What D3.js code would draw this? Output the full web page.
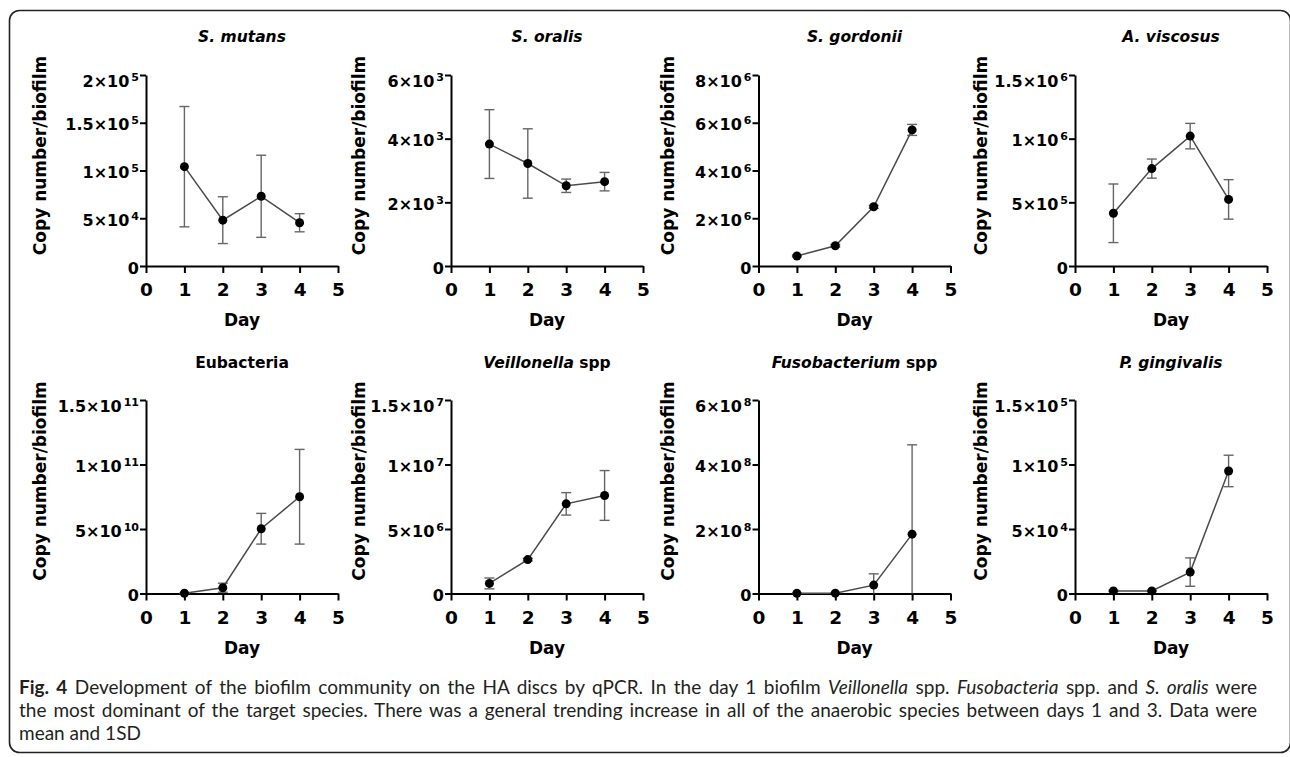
<!DOCTYPE html>
<html>
<head>
<meta charset="utf-8">
<script src="https://cdn.jsdelivr.net/npm/d3@7"></script>
<style>
  html, body { margin: 0; padding: 0; background: #fff; }
  svg { display: block; }
  .axis path, .axis line { stroke: #000; stroke-width: 2; }
  .axis text { font-family: "DejaVu Sans", sans-serif; font-weight: bold; fill: #000; }
</style>
</head>
<body>
<svg id="fig" width="1290" height="757"></svg>
<script>
// Days sampled and the shared x axis
const days = [1, 2, 3, 4];
const xTicks = [0, 1, 2, 3, 4, 5];

// S. mutans
const mutansMean = [1.04e5, 0.48e5, 0.73e5, 0.453e5];
const mutansSD = [0.63e5, 0.245e5, 0.43e5, 0.095e5];
const mutansTicks = [0, 5e4, 1e5, 1.5e5, 2e5];
const mutansTickLabels = ["0", "5×10^4", "1×10^5", "1.5×10^5", "2×10^5"];

// S. oralis
const oralisMean = [3.83e3, 3.22e3, 2.52e3, 2.65e3];
const oralisSD = [1.08e3, 1.09e3, 0.21e3, 0.29e3];
const oralisTicks = [0, 2e3, 4e3, 6e3];
const oralisTickLabels = ["0", "2×10^3", "4×10^3", "6×10^3"];

// S. gordonii
const gordoniiMean = [0.42e6, 0.85e6, 2.48e6, 5.70e6];
const gordoniiSD = [0.04e6, 0.05e6, 0.06e6, 0.23e6];
const gordoniiTicks = [0, 2e6, 4e6, 6e6, 8e6];
const gordoniiTickLabels = ["0", "2×10^6", "4×10^6", "6×10^6", "8×10^6"];

// A. viscosus
const viscosusMean = [0.414e6, 0.765e6, 1.02e6, 0.523e6];
const viscosusSD = [0.23e6, 0.075e6, 0.10e6, 0.155e6];
const viscosusTicks = [0, 5e5, 1e6, 1.5e6];
const viscosusTickLabels = ["0", "5×10^5", "1×10^6", "1.5×10^6"];

// Eubacteria
const eubacteriaMean = [0.02e10, 0.45e10, 5.02e10, 7.5e10];
const eubacteriaSD = [0.01e10, 0.35e10, 1.19e10, 3.67e10];
const eubacteriaTicks = [0, 5e10, 1e11, 1.5e11];
const eubacteriaTickLabels = ["0", "5×10^10", "1×10^11", "1.5×10^11"];

// Veillonella spp
const veillonellaMean = [0.78e6, 2.63e6, 6.95e6, 7.6e6];
const veillonellaSD = [0.42e6, 0.1e6, 0.87e6, 1.93e6];
const veillonellaTicks = [0, 5e6, 1e7, 1.5e7];
const veillonellaTickLabels = ["0", "5×10^6", "1×10^7", "1.5×10^7"];

// Fusobacterium spp
const fusoMean = [0.005e8, 0.01e8, 0.26e8, 1.84e8];
const fusoSD = [0.003e8, 0.005e8, 0.35e8, 2.77e8];
const fusoTicks = [0, 2e8, 4e8, 6e8];
const fusoTickLabels = ["0", "2×10^8", "4×10^8", "6×10^8"];

// P. gingivalis
const gingivalisMean = [0.2e4, 0.2e4, 1.66e4, 9.5e4];
const gingivalisSD = [0.05e4, 0.05e4, 1.1e4, 1.22e4];
const gingivalisTicks = [0, 5e4, 1e5, 1.5e5];
const gingivalisTickLabels = ["0", "5×10^4", "1×10^5", "1.5×10^5"];

// Panel titles: [text, italic]
const titles = [
  [["S. mutans", true]],
  [["S. oralis", true]],
  [["S. gordonii", true]],
  [["A. viscosus", true]],
  [["Eubacteria", false]],
  [["Veillonella", true], [" spp", false]],
  [["Fusobacterium", true], [" spp", false]],
  [["P. gingivalis", true]]
];

const yTitle = "Copy number/biofilm";
const xTitle = "Day";

const captionLines = [
  [["Fig. 4", "bold"], [" Development of the biofilm community on the HA discs by qPCR. In the day 1 biofilm ", ""],
   ["Veillonella", "italic"], [" spp. ", ""], ["Fusobacteria", "italic"], [" spp. and ", ""], ["S. oralis", "italic"], [" were", ""]],
  [["the most dominant of the target species. There was a general trending increase in all of the anaerobic species between days 1 and 3. Data were", ""]],
  [["mean and 1SD", ""]]
];

const panels = [
  {mean: mutansMean, sd: mutansSD, ticks: mutansTicks, labels: mutansTickLabels},
  {mean: oralisMean, sd: oralisSD, ticks: oralisTicks, labels: oralisTickLabels},
  {mean: gordoniiMean, sd: gordoniiSD, ticks: gordoniiTicks, labels: gordoniiTickLabels},
  {mean: viscosusMean, sd: viscosusSD, ticks: viscosusTicks, labels: viscosusTickLabels},
  {mean: eubacteriaMean, sd: eubacteriaSD, ticks: eubacteriaTicks, labels: eubacteriaTickLabels},
  {mean: veillonellaMean, sd: veillonellaSD, ticks: veillonellaTicks, labels: veillonellaTickLabels},
  {mean: fusoMean, sd: fusoSD, ticks: fusoTicks, labels: fusoTickLabels},
  {mean: gingivalisMean, sd: gingivalisSD, ticks: gingivalisTicks, labels: gingivalisTickLabels}
].map((p, i) => Object.assign(p, {title: titles[i], col: i % 4, row: Math.floor(i / 4)}));

// Layout of the 4 x 2 grid
const colAxisX = [146, 451, 758.5, 1075];
const colLabelX = [46, 365, 673.5, 986.5];
const rows = [
  {y0: 266, yTop: 75, titleY: 42, labelY: 155.5},
  {y0: 593.5, yTop: 400, titleY: 368, labelY: 481}
];
const plotW = 192;

const svg = d3.select("#fig");

// Rounded frame around the figure
svg.append("rect")
  .attr("x", 9.5).attr("y", 10.5)
  .attr("width", 1281).attr("height", 742)
  .attr("rx", 10).attr("ry", 10)
  .attr("fill", "none").attr("stroke", "#222").attr("stroke-width", 1.6);

panels.forEach(p => {
  const r = rows[p.row];
  const ax = colAxisX[p.col];
  const x = d3.scaleLinear().domain([0, 5]).range([ax, ax + plotW]);
  const yMax = p.ticks[p.ticks.length - 1];
  const y = d3.scaleLinear().domain([0, yMax]).range([r.y0, r.yTop]);
  const g = svg.append("g");

  // x axis
  const gx = g.append("g").attr("class", "axis")
    .attr("transform", `translate(0,${r.y0})`)
    .call(d3.axisBottom(x).tickValues(xTicks).tickSize(7).tickSizeOuter(0).tickFormat(d3.format("d")));
  gx.selectAll("text").attr("y", 30).attr("dy", null).style("font-size", "18.5px");

  // y axis with superscript tick labels
  const gy = g.append("g").attr("class", "axis")
    .attr("transform", `translate(${ax},0)`)
    .call(d3.axisLeft(y).tickValues(p.ticks).tickSize(6).tickSizeOuter(0).tickFormat(""));
  gy.selectAll(".tick").each(function(d, i) {
    const lab = p.labels[i];
    const isTop = i === p.ticks.length - 1;
    const t = d3.select(this).select("text")
      .attr("x", -7).attr("dy", null).attr("y", isTop ? 11 : 7)
      .attr("text-anchor", "end").style("font-size", "16px");
    const parts = lab.split("^");
    t.append("tspan").text(parts[0]);
    if (parts.length > 1) {
      t.append("tspan").attr("dx", 2).attr("dy", -6).style("font-size", "11px").text(parts[1]);
    }
  });

  // error bars (lower end clipped at the axis)
  const cap = 5;
  const eb = g.append("g").attr("stroke", "#666").attr("stroke-width", 1.4).attr("fill", "none");
  days.forEach((d, i) => {
    const hi = p.mean[i] + p.sd[i];
    const loRaw = p.mean[i] - p.sd[i];
    const lo = Math.max(0, loRaw);
    const cx = x(d);
    eb.append("line").attr("x1", cx).attr("x2", cx).attr("y1", y(hi)).attr("y2", y(lo));
    eb.append("line").attr("x1", cx - cap).attr("x2", cx + cap).attr("y1", y(hi)).attr("y2", y(hi));
    if (loRaw > 0) {
      eb.append("line").attr("x1", cx - cap).attr("x2", cx + cap).attr("y1", y(lo)).attr("y2", y(lo));
    }
  });

  // mean line
  g.append("path")
    .datum(days.map((d, i) => [d, p.mean[i]]))
    .attr("fill", "none").attr("stroke", "#4a4a4a").attr("stroke-width", 1.5)
    .attr("d", d3.line().x(d => x(d[0])).y(d => y(d[1])));

  // markers
  g.selectAll("circle.pt").data(days.map((d, i) => [d, p.mean[i]])).join("circle")
    .attr("class", "pt")
    .attr("cx", d => x(d[0])).attr("cy", d => y(d[1])).attr("r", 4.5).attr("fill", "#000");

  // panel title
  const tt = g.append("text")
    .attr("x", ax + plotW / 2).attr("y", r.titleY)
    .attr("text-anchor", "middle")
    .style("font-family", "DejaVu Sans, sans-serif").style("font-weight", "bold").style("font-size", "15.5px");
  p.title.forEach(([s, it]) => tt.append("tspan").style("font-style", it ? "italic" : "normal").text(s));

  // axis titles
  g.append("text")
    .attr("transform", `translate(${colLabelX[p.col]},${r.labelY}) rotate(-90)`)
    .attr("text-anchor", "middle")
    .style("font-family", "DejaVu Sans, sans-serif").style("font-weight", "bold").style("font-size", "17px")
    .text(yTitle);
  g.append("text")
    .attr("x", ax + plotW / 2).attr("y", r.y0 + 60)
    .attr("text-anchor", "middle")
    .style("font-family", "DejaVu Sans, sans-serif").style("font-weight", "bold").style("font-size", "17px")
    .text(xTitle);
});

// Caption, justified to the text block width except the last line
const capX = 19, capRight = 1257, capY = [694, 717, 740];
captionLines.forEach((line, li) => {
  const t = svg.append("text")
    .attr("x", capX).attr("y", capY[li])
    .style("font-family", "Lato, sans-serif").style("font-size", "19px").style("fill", "#231f20");
  line.forEach(([s, st]) => {
    const ts = t.append("tspan").text(s);
    if (st === "bold") ts.style("font-weight", "bold");
    if (st === "italic") ts.style("font-style", "italic");
  });
  if (li < captionLines.length - 1) {
    const natural = t.node().getComputedTextLength();
    const spaces = line.map(d => d[0]).join("").split(" ").length - 1;
    t.style("word-spacing", ((capRight - capX - natural) / spaces) + "px");
  }
});
</script>
</body>
</html>
